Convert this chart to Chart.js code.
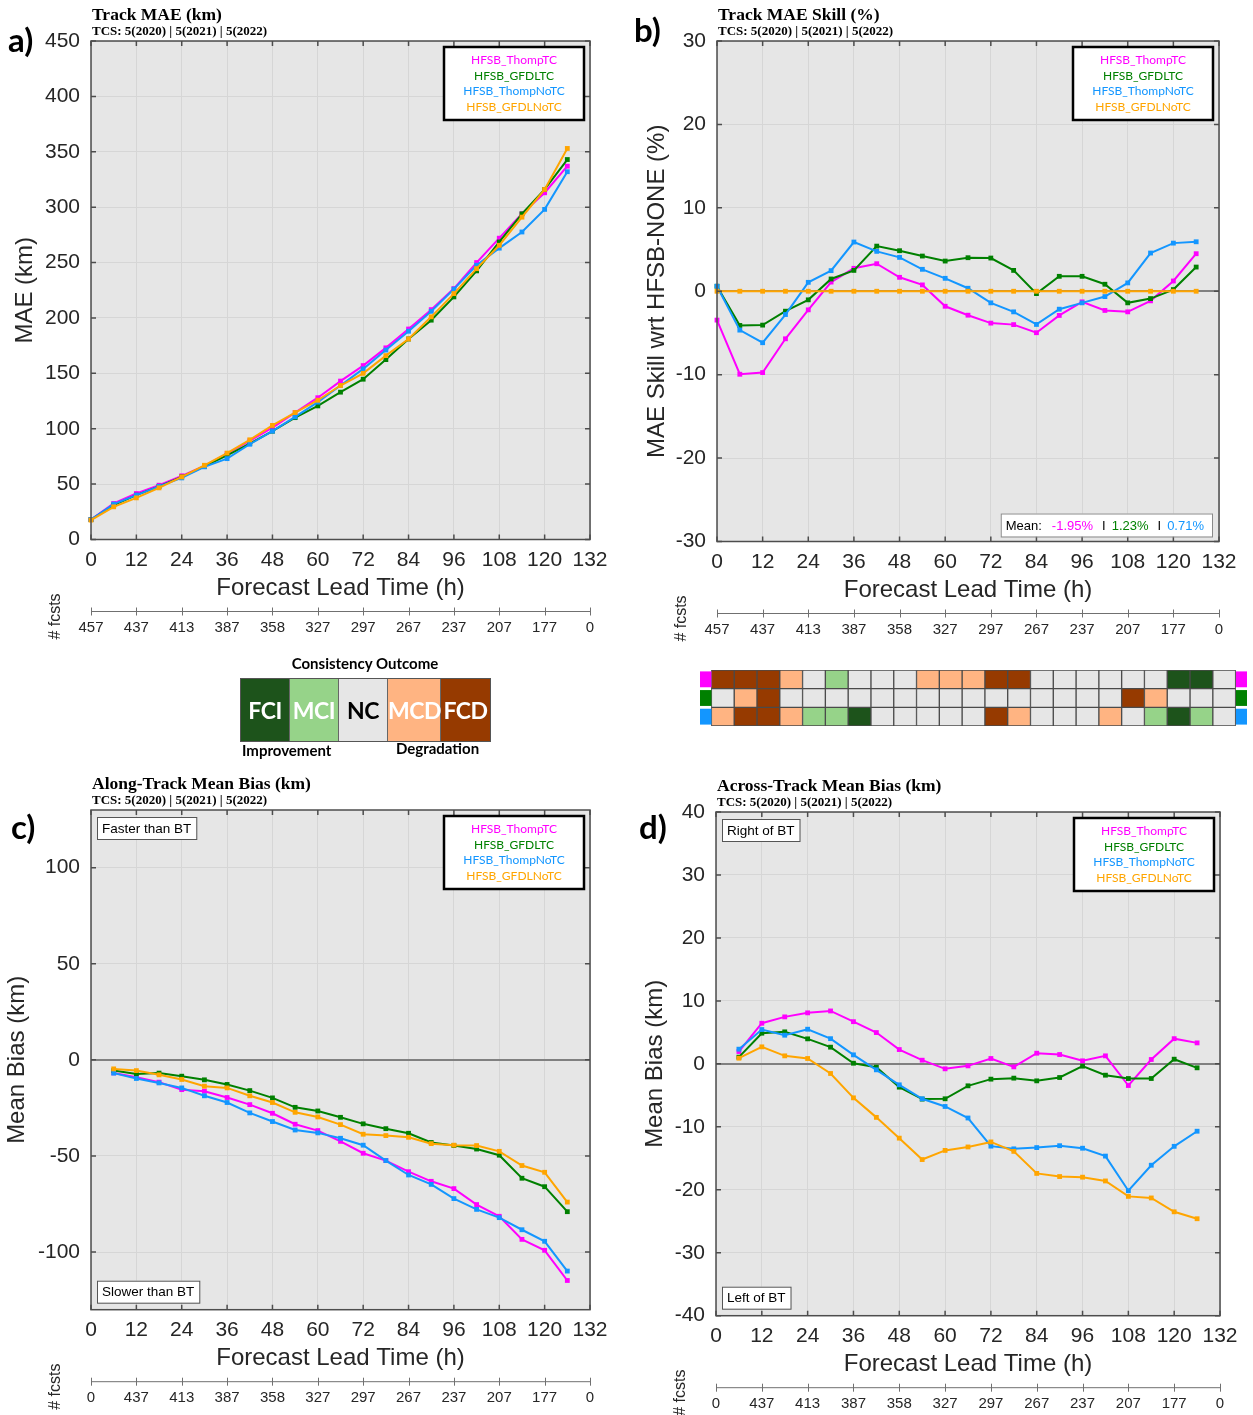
<!DOCTYPE html>
<html>
<head>
<meta charset="utf-8">
<title>HFSB track verification</title>
<script src="https://cdn.jsdelivr.net/npm/chart.js@4.4.0/dist/chart.umd.min.js"></script>
<style>
  body { margin: 0; width: 1253px; height: 1415px; position: relative; background: #fff; overflow: hidden; font-family: "Liberation Sans", Arial, sans-serif; }
  canvas { position: absolute; }
  .tag { position: absolute; font: bold 33px Lato, sans-serif; line-height: 33px; color: #000; }
  #consTitle { position: absolute; left: 240px; top: 654px; width: 250px; text-align: center; font: bold 15px Lato, sans-serif; color: #000; }
  #consCells { position: absolute; left: 240px; top: 678px; height: 62px; display: flex; border: 1px solid #555; }
  #consCells div { height: 62px; text-align: center; font: bold 23px Lato, sans-serif; line-height: 62px; color: #fff; border-right: 1px solid #666; letter-spacing: -0.5px; }
  #consCells div:last-child { border-right: none; }
  .consNote { position: absolute; font: bold 15px Lato, sans-serif; color: #000; }
</style>
</head>
<body>
<canvas id="panelA" width="620" height="660" style="left:0;top:0"></canvas>
<canvas id="panelB" width="633" height="660" style="left:620px;top:0"></canvas>
<canvas id="panelC" width="620" height="645" style="left:0;top:770px"></canvas>
<canvas id="panelD" width="633" height="645" style="left:620px;top:770px"></canvas>
<canvas id="consGrid" width="547" height="56" style="left:700px;top:670px"></canvas>

<div class="tag" style="left:8px;top:23px">a)</div>
<div class="tag" style="left:634px;top:13px">b)</div>
<div class="tag" style="left:11px;top:810px">c)</div>
<div class="tag" style="left:639px;top:810px">d)</div>

<div id="consTitle">Consistency Outcome</div>
<div id="consCells"></div>
<div class="consNote" style="left:242px;top:741px">Improvement</div>
<div class="consNote" style="left:396px;top:739px">Degradation</div>

<script>
// lead times (h)
const leadHours = [0, 6, 12, 18, 24, 30, 36, 42, 48, 54, 60, 66, 72, 78, 84, 90, 96, 102, 108, 114, 120, 126];
const biasHours = leadHours.slice(1);

const seriesNames = ['HFSB_ThompTC', 'HFSB_GFDLTC', 'HFSB_ThompNoTC', 'HFSB_GFDLNoTC'];
const seriesColors = ['#ff00ff', '#008000', '#1396ff', '#ffa500'];

// number of forecasts, one per 12 h tick
const fcstsAB = ['457', '437', '413', '387', '358', '327', '297', '267', '237', '207', '177', '0'];
const fcstsCD = ['0', '437', '413', '387', '358', '327', '297', '267', '237', '207', '177', '0'];

// a) track MAE (km)
const maeThompTC   = [18, 32.5, 41.5, 49, 57.5, 66.5, 77.6, 89, 101, 114.6, 128, 143, 157, 173, 190, 207.5, 226.5, 250, 272, 294, 313, 337];
const maeGFDLTC    = [18, 31, 40, 48, 56.5, 66, 76, 86.6, 97.8, 110, 120.6, 133, 144.7, 162.4, 181, 198, 219, 242.5, 268.6, 294, 316, 343];
const maeThompNoTC = [18, 32, 40, 48, 55.6, 65.6, 73, 86, 97.8, 110.7, 124, 139, 154, 171, 188, 206, 226, 247.6, 263, 277.6, 298, 332];
const maeGFDLNoTC  = [17.5, 29.5, 37.6, 46.6, 56.5, 67, 78, 90, 103, 114.6, 125.7, 139, 150, 166, 181, 201, 222, 244.5, 265.6, 291, 316, 353];

// b) track MAE skill (%)
const skillThompTC   = [-3.46, -9.95, -9.75, -5.7, -2.23, 1.1, 2.75, 3.3, 1.67, 0.76, -1.8, -2.87, -3.82, -4.0, -4.97, -2.9, -1.27, -2.3, -2.47, -1.15, 1.23, 4.5];
const skillGFDLTC    = [0.6, -4.1, -4.06, -2.39, -1.03, 1.47, 2.5, 5.41, 4.86, 4.22, 3.62, 4.02, 3.98, 2.5, -0.28, 1.79, 1.79, 0.84, -1.39, -0.88, 0.2, 2.9];
const skillThompNoTC = [0.6, -4.66, -6.17, -2.79, 1.07, 2.47, 5.9, 4.78, 4.06, 2.63, 1.55, 0.36, -1.39, -2.47, -3.98, -2.15, -1.39, -0.64, 1.0, 4.58, 5.77, 5.93];
const skillGFDLNoTC  = [0, 0, 0, 0, 0, 0, 0, 0, 0, 0, 0, 0, 0, 0, 0, 0, 0, 0, 0, 0, 0, 0];
const meanSkill = ['-1.95%', '1.23%', '0.71%'];

// c) along-track mean bias (km)
const alongThompTC   = [-6.8, -9, -11.6, -15.5, -16.3, -19.6, -23.3, -27.8, -33.5, -36.8, -42.4, -48.6, -52.4, -58.2, -63.2, -67, -75.3, -81.4, -93.4, -99.1, -114.8];
const alongGFDLTC    = [-5.6, -7.3, -6.9, -8.5, -10.4, -12.8, -16, -19.8, -24.7, -26.6, -29.9, -33.3, -35.8, -38.2, -43, -44.6, -46.4, -49.6, -61.6, -66, -79];
const alongThompNoTC = [-6.9, -9.7, -12, -14.6, -18.7, -22.2, -27.6, -32.1, -36.5, -38, -40.8, -44.4, -52.4, -59.9, -64.8, -72.2, -77.8, -82.1, -88.4, -94.4, -109.9];
const alongGFDLNoTC  = [-4.7, -5.6, -7.8, -10.2, -13.7, -14.6, -18.7, -22.2, -27.3, -29.7, -33.7, -38.7, -39.4, -40.3, -43.6, -44.4, -44.6, -47.6, -55, -58.5, -74];

// d) across-track mean bias (km)
const acrossThompTC   = [1.96, 6.45, 7.46, 8.1, 8.4, 6.7, 4.97, 2.27, 0.58, -0.79, -0.32, 0.85, -0.48, 1.69, 1.48, 0.48, 1.27, -3.44, 0.69, 4.0, 3.33];
const acrossGFDLTC    = [1.06, 4.87, 5.08, 3.97, 2.65, 0.1, -0.53, -3.7, -5.6, -5.55, -3.49, -2.43, -2.27, -2.7, -2.17, -0.37, -1.8, -2.33, -2.33, 0.74, -0.63];
const acrossThompNoTC = [2.33, 5.45, 4.55, 5.5, 4.0, 1.43, -0.95, -3.33, -5.55, -6.77, -8.6, -13.07, -13.5, -13.3, -13.0, -13.4, -14.65, -20.15, -16.1, -13.1, -10.7];
const acrossGFDLNoTC  = [0.9, 2.7, 1.27, 0.85, -1.53, -5.4, -8.5, -11.8, -15.2, -13.75, -13.2, -12.4, -13.9, -17.4, -17.9, -18.0, -18.6, -21.05, -21.3, -23.5, -24.6];

// consistency outcome per 6 h (0..132 h)
const consThompTC   = ['FCD','FCD','FCD','MCD','NC','MCI','NC','NC','NC','MCD','MCD','MCD','FCD','FCD','NC','NC','NC','NC','NC','NC','FCI','FCI','NC'];
const consGFDLTC    = ['NC','MCD','FCD','NC','NC','NC','NC','NC','NC','NC','NC','NC','NC','NC','NC','NC','NC','NC','FCD','MCD','NC','NC','NC'];
const consThompNoTC = ['MCD','FCD','FCD','MCD','MCI','MCI','FCI','NC','NC','NC','NC','NC','FCD','MCD','NC','NC','NC','MCD','NC','MCI','FCI','MCI','NC'];
const outcomeNames = ['FCI', 'MCI', 'NC', 'MCD', 'FCD'];
const outcomeColors = { FCI: '#1d531b', MCI: '#96d389', NC: '#e6e6e6', MCD: '#ffb482', FCD: '#963a00' };

const tcsText = 'TCS: 5(2020) | 5(2021) | 5(2022)';
const gridColor = '#d6d6d6';
const textColor = '#262626';

Chart.defaults.font.family = '"Liberation Sans", Arial, sans-serif';
Chart.defaults.color = textColor;

function makeDatasets(hours, lists) {
    return lists.map((vals, i) => ({
        label: seriesNames[i],
        data: vals.map((v, k) => ({ x: hours[k], y: v })),
        borderColor: seriesColors[i],
        backgroundColor: seriesColors[i],
        borderWidth: 2,
        pointStyle: 'rect',
        pointRadius: 3.4,
        pointBorderWidth: 0,
        tension: 0,
        clip: false,
        order: lists.length - i
    }));
}

// axes box, inward ticks, fcsts axis line, titles, legend, notes
function frame(conf) {
    return {
        id: 'frame',
        beforeDraw(chart) {
            const { ctx, chartArea: a } = chart;
            ctx.save();
            ctx.fillStyle = '#e6e6e6';
            ctx.fillRect(a.left, a.top, a.width, a.height);
            ctx.restore();
        },
        afterDatasetsDraw(chart) {
            const { ctx, chartArea: a, scales } = chart;
            const xs = scales.x, ys = scales.y, x2 = scales.x2;
            ctx.save();

            ctx.strokeStyle = '#4d4d4d';
            ctx.lineWidth = 1.5;
            ctx.strokeRect(a.left, a.top, a.width, a.height);
            ctx.beginPath();
            xs.ticks.forEach(t => {
                const p = xs.getPixelForValue(t.value);
                ctx.moveTo(p, a.bottom); ctx.lineTo(p, a.bottom - 5);
                ctx.moveTo(p, a.top); ctx.lineTo(p, a.top + 5);
            });
            ys.ticks.forEach(t => {
                const p = ys.getPixelForValue(t.value);
                ctx.moveTo(a.left, p); ctx.lineTo(a.left + 5, p);
                ctx.moveTo(a.right, p); ctx.lineTo(a.right - 5, p);
            });
            ctx.stroke();

            // # fcsts axis
            const ly = x2.top;
            ctx.strokeStyle = '#707070';
            ctx.lineWidth = 1;
            ctx.beginPath();
            ctx.moveTo(a.left, ly); ctx.lineTo(a.right, ly);
            x2.ticks.forEach(t => {
                const p = Math.round(x2.getPixelForValue(t.value)) + 0.5;
                ctx.moveTo(p, ly - 4); ctx.lineTo(p, ly + 4);
            });
            ctx.stroke();
            ctx.fillStyle = textColor;
            ctx.font = '16px "Liberation Sans", Arial';
            ctx.textAlign = 'center';
            ctx.textBaseline = 'middle';
            ctx.save();
            ctx.translate(a.left - 35, ly + 5);
            ctx.rotate(-Math.PI / 2);
            ctx.fillText('# fcsts', 0, 0);
            ctx.restore();

            // titles
            ctx.fillStyle = '#000';
            ctx.textAlign = 'left';
            ctx.font = 'bold 17.5px "Liberation Serif", serif';
            ctx.fillText(conf.title, a.left + 1, a.top - 26);
            ctx.font = 'bold 13px "Liberation Serif", serif';
            ctx.fillText(tcsText, a.left + 1, a.top - 9);

            // legend box
            const bw = 140, bh = 73, bx = a.right - 6 - bw, by = a.top + 6;
            ctx.fillStyle = '#fff';
            ctx.fillRect(bx, by, bw, bh);
            ctx.lineWidth = 2.5;
            ctx.strokeStyle = '#000';
            ctx.strokeRect(bx, by, bw, bh);
            ctx.font = '12px Lato, sans-serif';
            ctx.textAlign = 'center';
            seriesNames.forEach((n, i) => {
                ctx.fillStyle = seriesColors[i];
                ctx.fillText(n, bx + bw / 2, by + 13 + i * 15.7);
            });

            // note boxes
            ctx.font = '13.5px "Liberation Sans", Arial';
            ctx.textAlign = 'left';
            (conf.notes || []).forEach(n => {
                const w = ctx.measureText(n.text).width + 10;
                const h = 22;
                const x = a.left + 6;
                const y = n.at === 'top' ? a.top + 7 : a.bottom - 7 - h;
                ctx.fillStyle = '#fff';
                ctx.fillRect(x, y, w, h);
                ctx.lineWidth = 1;
                ctx.strokeStyle = '#555';
                ctx.strokeRect(x + 0.5, y + 0.5, w, h);
                ctx.fillStyle = '#000';
                ctx.fillText(n.text, x + 5, y + h / 2 + 1);
            });

            // mean skill box
            if (conf.mean) {
                ctx.font = '13px "Liberation Sans", Arial';
                const parts = [['Mean:', '#000', 10], [conf.mean[0], seriesColors[0], 9], ['I', '#000', 6],
                               [conf.mean[1], seriesColors[1], 9], ['I', '#000', 6], [conf.mean[2], seriesColors[2], 0]];
                let w = 13;
                parts.forEach(p => { w += ctx.measureText(p[0]).width + p[2]; });
                const h = 23, x = a.right - 7 - w, y = a.bottom - 5 - h;
                ctx.fillStyle = '#fff';
                ctx.fillRect(x, y, w, h);
                ctx.strokeStyle = '#8a8a8a';
                ctx.lineWidth = 1;
                ctx.strokeRect(x + 0.5, y + 0.5, w, h);
                let cx = x + 5;
                parts.forEach(p => {
                    ctx.fillStyle = p[1];
                    ctx.fillText(p[0], cx, y + h / 2 + 1);
                    cx += ctx.measureText(p[0]).width + p[2];
                });
            }
            ctx.restore();
        }
    };
}

function makePanel(id, p) {
    return new Chart(document.getElementById(id), {
        type: 'line',
        data: { datasets: makeDatasets(p.hours, p.series) },
        options: {
            responsive: false,
            animation: false,
            layout: { padding: p.pad },
            plugins: { legend: { display: false }, tooltip: { enabled: false } },
            scales: {
                x: {
                    type: 'linear', min: 0, max: 132, position: 'bottom', weight: 0,
                    afterFit: s => { s.height = 72; },
                    ticks: { stepSize: 12, font: { size: 21 }, color: textColor, padding: 8, maxRotation: 0, autoSkip: false },
                    grid: { color: gridColor, drawTicks: false },
                    border: { display: false },
                    title: { display: true, text: 'Forecast Lead Time (h)', font: { size: 24 }, color: textColor, padding: { top: 0, bottom: 8.6 } }
                },
                x2: {
                    type: 'linear', min: 0, max: 132, position: 'bottom', weight: 1,
                    afterFit: s => { s.height = 27; },
                    ticks: { stepSize: 12, font: { size: 15 }, color: textColor, padding: 7, maxRotation: 0, autoSkip: false,
                             callback: v => p.fcsts[Math.round(v / 12)] },
                    grid: { display: false, drawTicks: false },
                    border: { display: false }
                },
                y: {
                    min: p.yMin, max: p.yMax,
                    afterFit: s => { s.width = p.yWidth; },
                    afterBuildTicks: s => { s.ticks = s.ticks.filter(t => Math.abs(t.value % p.yStep) < 1e-6); },
                    ticks: { stepSize: p.yStep, font: { size: 21 }, color: textColor, padding: 11 },
                    grid: {
                        drawTicks: false,
                        color: c => (p.zeroLine && c.tick && c.tick.value === 0) ? '#808080' : gridColor,
                        lineWidth: c => (p.zeroLine && c.tick && c.tick.value === 0) ? 2 : 1
                    },
                    border: { display: false },
                    title: { display: true, text: p.yTitle, font: { size: 24 }, color: textColor, padding: { top: p.yTitlePad, bottom: 0 } }
                }
            }
        },
        plugins: [frame(p)]
    });
}

makePanel('panelA', {
    hours: leadHours, series: [maeThompTC, maeGFDLTC, maeThompNoTC, maeGFDLNoTC],
    pad: { top: 41, left: 0, right: 30, bottom: 21.5 }, yWidth: 91, yTitlePad: 10.6,
    yMin: 0, yMax: 450, yStep: 50, zeroLine: false, yTitle: 'MAE (km)',
    fcsts: fcstsAB, title: 'Track MAE (km)'
});

makePanel('panelB', {
    hours: leadHours, series: [skillThompTC, skillGFDLTC, skillThompNoTC, skillGFDLNoTC],
    pad: { top: 41, left: 0, right: 34, bottom: 19.5 }, yWidth: 97, yTitlePad: 22.6,
    yMin: -30, yMax: 30, yStep: 10, zeroLine: true, yTitle: 'MAE Skill wrt HFSB-NONE (%)',
    fcsts: fcstsAB, title: 'Track MAE Skill (%)', mean: meanSkill
});

makePanel('panelC', {
    hours: biasHours, series: [alongThompTC, alongGFDLTC, alongThompNoTC, alongGFDLNoTC],
    pad: { top: 40, left: 0, right: 30, bottom: 6.3 }, yWidth: 91, yTitlePad: 2.6,
    yMin: -130, yMax: 130, yStep: 50, zeroLine: true, yTitle: 'Mean Bias (km)',
    fcsts: fcstsCD, title: 'Along-Track Mean Bias (km)',
    notes: [{ text: 'Faster than BT', at: 'top' }, { text: 'Slower than BT', at: 'bottom' }]
});

makePanel('panelD', {
    hours: biasHours, series: [acrossThompTC, acrossGFDLTC, acrossThompNoTC, acrossGFDLNoTC],
    pad: { top: 42, left: 0, right: 33, bottom: 0.3 }, yWidth: 96, yTitlePad: 20.6,
    yMin: -40, yMax: 40, yStep: 10, zeroLine: true, yTitle: 'Mean Bias (km)',
    fcsts: fcstsCD, title: 'Across-Track Mean Bias (km)',
    notes: [{ text: 'Right of BT', at: 'top' }, { text: 'Left of BT', at: 'bottom' }]
});

// consistency grid: one stacked bar per series row, one segment per lead time
const consRows = [consThompTC, consGFDLTC, consThompNoTC];
const tab = () => ({ data: consRows.map(() => 0.5), backgroundColor: seriesColors.slice(0, 3), borderWidth: 0, barPercentage: 0.85, categoryPercentage: 1 });
const consDatasets = [tab()];
consThompTC.forEach((_, c) => {
    consDatasets.push({
        data: consRows.map(() => 1),
        backgroundColor: consRows.map(r => outcomeColors[r[c]]),
        borderColor: '#4a4a4a', borderWidth: 1, borderSkipped: false,
        barPercentage: 1, categoryPercentage: 1
    });
});
consDatasets.push(tab());

new Chart(document.getElementById('consGrid'), {
    type: 'bar',
    data: { labels: seriesNames.slice(0, 3), datasets: consDatasets },
    options: {
        indexAxis: 'y', responsive: false, animation: false,
        layout: { padding: 0 },
        plugins: { legend: { display: false }, tooltip: { enabled: false } },
        scales: {
            x: { stacked: true, min: 0, max: consThompTC.length + 1, display: false },
            y: { stacked: true, display: false }
        }
    }
});

// consistency outcome key
const cellWidths = [48, 48, 48, 52, 49];
const cells = document.getElementById('consCells');
outcomeNames.forEach((n, i) => {
    const d = document.createElement('div');
    d.textContent = n;
    d.style.width = cellWidths[i] + 'px';
    d.style.background = outcomeColors[n];
    if (n === 'NC') d.style.color = '#000';
    cells.appendChild(d);
});
</script>
</body>
</html>
